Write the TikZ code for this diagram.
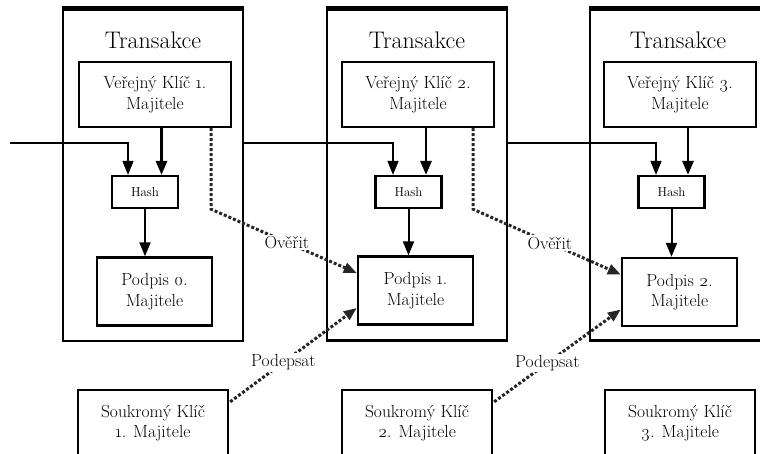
\documentclass[tikz,border=0pt]{standalone}
\usepackage{fontspec}
\setmainfont{Latin Modern Roman}[Numbers=OldStyle]
\usetikzlibrary{arrows.meta,calc}

\tikzset{
  txbox/.style={draw, line width=2.6pt, minimum height=331pt},
  keybox/.style={draw, line width=2.4pt, align=center, inner sep=0pt,
    minimum width=152pt, minimum height=65pt, font=\fontsize{17.5}{20.5}\selectfont},
  hashbox/.style={draw, line width=2.2pt, inner sep=0pt,
    minimum width=66pt, minimum height=32pt, font=\fontsize{13}{15}\selectfont},
  sigbox/.style={draw, line width=2.4pt, align=center, inner sep=0pt,
    minimum width=115pt, minimum height=68pt, font=\fontsize{17.5}{20.5}\selectfont},
  title/.style={font=\fontsize{24}{27}\selectfont},
  feed/.style={line width=1.4pt, -{Triangle[length=14pt,width=11pt]}},
  heavy/.style={line width=2.8pt, -{Triangle[length=14pt,width=11pt]}},
  link/.style={line width=2pt, -{Triangle[length=14pt,width=11pt]}},
  dots/.style={line width=3pt, black!85, dash pattern=on 3pt off 2pt,
    -{Triangle[length=13pt,width=10pt]}},
  lbl/.style={fill=white, inner sep=1.5pt, text=black, font=\fontsize{17.5}{20}\selectfont},
}

\begin{document}
\begin{tikzpicture}[x=1pt,y=-1pt]
\useasboundingbox (0,0) rectangle (760,454);
\clip (0,0) rectangle (760,454);

% transaction frames
\node[txbox, minimum width=180pt] (T1) at (153,175.5) {};
\node[txbox, minimum width=180pt] (T2) at (417,175) {};
\node[txbox, minimum width=200pt] (T3) at (690,175) {};
\foreach \t in {T1,T2,T3}
  \draw[line width=5pt] (\t.north west) -- (\t.north east);

\node[title] (tt1) at (153,40) {Transakce};
\node[title] (tt2) at (417,40) {Transakce};
\node[title] (tt3) at (678,40) {Transakce};

% public keys
\node[keybox] (V1) at (155,94.5) {Veřejný Klíč 1.\\Majitele};
\node[keybox] (V2) at (418,94.5) {Veřejný Klíč 2.\\Majitele};
\node[keybox] (V3) at (680,94.5) {Veřejný Klíč 3.\\Majitele};

% hashes
\node[hashbox] (H1) at (145,192) {Hash};
\node[hashbox] (H2) at (408.5,192) {Hash};
\node[hashbox] (H3) at (671.5,192) {Hash};

% signatures
\node[sigbox] (P0) at (154.5,291.5) {Podpis 0.\\Majitele};
\node[sigbox] (P1) at (415.5,290.5) {Podpis 1.\\Majitele};
\node[sigbox] (P2) at (679.5,292) {Podpis 2.\\Majitele};

% private keys
\node[keybox, minimum width=150pt, minimum height=66pt] (S1) at (153,423) {Soukromý Klíč\\1. Majitele};
\node[keybox, minimum width=150pt, minimum height=66pt] (S2) at (417,423) {Soukromý Klíč\\2. Majitele};
\node[keybox, minimum width=150pt, minimum height=66pt] (S3) at (680,423) {Soukromý Klíč\\3. Majitele};

% previous transaction feeding each hash
\coordinate (in) at (10,143);
\coordinate (f1) at ($(H1.north)+(-17,0)$);
\coordinate (f2) at ($(H2.north)+(-15.5,0)$);
\coordinate (f3) at ($(H3.north)+(-15.5,0)$);
\draw[feed] (in) -| (f1);
\draw[feed] (T1.east |- in) -| (f2);
\draw[feed] (T2.east |- in) -| (f3);

% public key into hash
\coordinate (k1) at ($(H1.north)+(16.5,0)$);
\coordinate (k2) at ($(H2.north)+(17.5,0)$);
\coordinate (k3) at ($(H3.north)+(16.5,0)$);
\draw[heavy] (k1 |- V1.south) -- (k1);
\draw[heavy] (k2 |- V2.south) -- (k2);
\draw[heavy] (k3 |- V3.south) -- (k3);

% hash into signature
\draw[link] (H1.south) -- (H1.south |- P0.north);
\draw[link] (H2.south) -- (H2.south |- P1.north);
\draw[link] (H3.south) -- (H3.south |- P2.north);

% verification
\coordinate (o1) at ($(V1.south)+(56,0)$);
\coordinate (o2) at ($(V2.south)+(55,0)$);
\draw[dots] (o1) -- ++(0,81) -- node[lbl, pos=0.52] {Ověřit} ($(P1.west)+(0,-17.5)$);
\draw[dots] (o2) -- ++(0,81) -- node[lbl, pos=0.52] {Ověřit} ($(P2.west)+(0,-17.5)$);

% signing
\draw[dots] ($(S1.north east)+(1,13)$) -- node[lbl, pos=0.42] {Podepsat} ($(P1.west)+(0,17.5)$);
\draw[dots] ($(S2.north east)+(1,13)$) -- node[lbl, pos=0.42] {Podepsat} ($(P2.west)+(0,17.5)$);
\end{tikzpicture}
\end{document}
